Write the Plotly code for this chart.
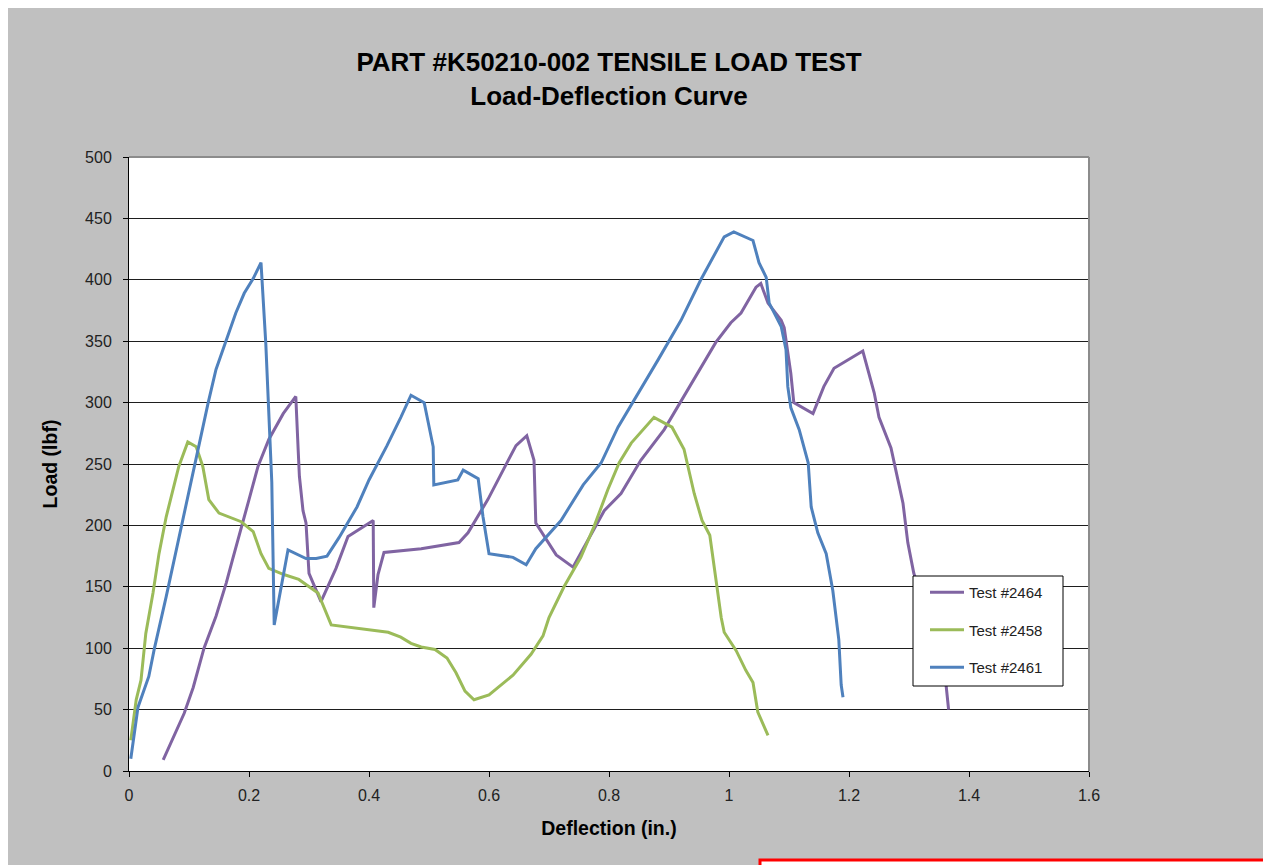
import plotly.graph_objects as go

# Test #2464 (purple)
x_2464 = [0.057, 0.075, 0.092, 0.107, 0.125, 0.145, 0.162, 0.173, 0.187, 0.200, 0.215, 0.233, 0.257, 0.278,
          0.282, 0.284, 0.290, 0.295, 0.300, 0.320, 0.345, 0.365, 0.407, 0.408, 0.415, 0.425, 0.487, 0.550,
          0.565, 0.598, 0.632, 0.645, 0.663, 0.675, 0.678, 0.692, 0.712, 0.740, 0.765, 0.792, 0.820, 0.853,
          0.892, 0.925, 0.953, 0.978, 1.003, 1.020, 1.045, 1.053, 1.065, 1.087, 1.092, 1.103, 1.108, 1.140,
          1.158, 1.175, 1.223, 1.242, 1.250, 1.270, 1.278, 1.290, 1.298, 1.308, 1.330, 1.350, 1.362, 1.366]
y_2464 = [9, 28, 47, 68, 100, 126, 153, 173, 199, 221, 248, 270, 291, 305,
          261, 240, 212, 202, 161, 138, 165, 191, 204, 133, 160, 178, 181, 186,
          194, 221, 253, 265, 273, 253, 202, 191, 176, 166, 188, 212, 226, 253,
          278, 305, 329, 349, 365, 373, 394, 397, 381, 367, 361, 324, 300, 291,
          313, 328, 342, 308, 288, 263, 245, 218, 186, 161, 128, 98, 69, 50]

# Test #2458 (green)
x_2458 = [0.003, 0.012, 0.020, 0.028, 0.040, 0.050, 0.062, 0.083, 0.098, 0.112, 0.123, 0.133, 0.150,
          0.187, 0.207, 0.220, 0.233, 0.258, 0.283, 0.315, 0.337, 0.432, 0.453, 0.470, 0.487, 0.510,
          0.530, 0.545, 0.560, 0.575, 0.600, 0.625, 0.640, 0.670, 0.690, 0.700, 0.725, 0.753, 0.775,
          0.798, 0.817, 0.837, 0.865, 0.875, 0.905, 0.925, 0.942, 0.955, 0.968, 0.975, 0.987, 0.992,
          1.012, 1.028, 1.040, 1.048, 1.065]
y_2458 = [25, 58, 74, 112, 145, 177, 207, 248, 268, 264, 248, 221, 210,
          203, 195, 177, 165, 160, 156, 145, 119, 113, 109, 104, 101, 99,
          92, 80, 65, 58, 62, 72, 78, 95, 110, 125, 150, 174, 199,
          229, 251, 267, 283, 288, 280, 262, 226, 204, 192, 166, 125, 113,
          98, 82, 72, 48, 29]

# Test #2461 (blue)
x_2461 = [0.003, 0.015, 0.033, 0.042, 0.062, 0.087, 0.110, 0.132, 0.145, 0.162, 0.178, 0.192, 0.207,
          0.220, 0.228, 0.238, 0.240, 0.242, 0.265, 0.295, 0.312, 0.330, 0.350, 0.380, 0.400, 0.430,
          0.453, 0.470, 0.492, 0.500, 0.507, 0.508, 0.548, 0.557, 0.582, 0.590, 0.600, 0.640, 0.662,
          0.678, 0.720, 0.757, 0.787, 0.815, 0.842, 0.882, 0.920, 0.953, 0.992, 1.008, 1.040, 1.050,
          1.062, 1.067, 1.087, 1.095, 1.098, 1.103, 1.117, 1.132, 1.137, 1.148, 1.162, 1.173, 1.183,
          1.187, 1.190]
y_2461 = [10, 52, 77, 99, 142, 199, 250, 300, 327, 351, 373, 389, 401,
          414, 348, 235, 160, 119, 180, 173, 173, 175, 190, 215, 237, 265,
          288, 306, 300, 280, 264, 233, 237, 245, 238, 207, 177, 174, 168,
          181, 204, 233, 251, 280, 302, 335, 367, 400, 435, 439, 432, 414,
          402, 381, 362, 343, 313, 296, 278, 251, 215, 194, 177, 147, 107,
          70, 60]

x_ticks = [0, 0.2, 0.4, 0.6, 0.8, 1.0, 1.2, 1.4, 1.6]
x_tick_labels = ["0", "0.2", "0.4", "0.6", "0.8", "1", "1.2", "1.4", "1.6"]
y_ticks = [0, 50, 100, 150, 200, 250, 300, 350, 400, 450, 500]

FONT = "Liberation Sans, Arial, sans-serif"

fig = go.Figure()
series = [
    ("Test #2464", x_2464, y_2464, "#8064A2"),
    ("Test #2458", x_2458, y_2458, "#9BBB59"),
    ("Test #2461", x_2461, y_2461, "#4F81BD"),
]
for i, (name, xs, ys, col) in enumerate(series):
    fig.add_trace(go.Scatter(x=xs, y=ys, mode="lines", name=name, legendgroup=f"g{i}",
                             line=dict(color=col, width=3)))

# figure coordinates (page has an 8px body margin)
L, R, T, B = 121, 1081, 149, 763
W, H = 1271, 865
pw, ph = R - L, B - T

def px(x):
    return (x - L) / pw

def py(y):
    return (B - y) / ph

shapes = [
    # red outlined box at bottom right
    dict(type="rect", xref="paper", yref="paper", x0=px(752), x1=px(W + 10), y0=py(H + 10), y1=py(852),
         fillcolor="white", line=dict(color="#FF0000", width=3), layer="below"),
    # gray border of plot area (top and right)
    dict(type="line", xref="paper", yref="paper", x0=0, x1=1, y0=1, y1=1,
         line=dict(color="#8C8C8C", width=2)),
    dict(type="line", xref="paper", yref="paper", x0=1, x1=1, y0=0, y1=1,
         line=dict(color="#8C8C8C", width=2)),
    # legend frame
    dict(type="rect", xref="paper", yref="paper", x0=px(905), x1=px(1055), y0=py(678), y1=py(568),
         fillcolor="white", line=dict(color="#000000", width=1), layer="above"),
]

fig.update_layout(
    width=W, height=H,
    margin=dict(l=L, r=W - R, t=T, b=H - B),
    paper_bgcolor="#C0C0C0",
    plot_bgcolor="white",
    font=dict(family=FONT, color="#222222", size=16),
    title=dict(text="<b>PART #K50210-002 TENSILE LOAD TEST<br>Load-Deflection Curve</b>",
               x=(L + R) / 2 / W, xanchor="center", y=1 - 63 / H, yanchor="middle",
               font=dict(family=FONT, size=26, color="#000000")),
    shapes=shapes,
    showlegend=True,
    legend=dict(x=px(917), y=py(568), xanchor="left", yanchor="top",
                bgcolor="rgba(0,0,0,0)", borderwidth=0,
                font=dict(family=FONT, size=15, color="#222222"),
                traceorder="grouped", tracegroupgap=15, itemwidth=34),
)

fig.update_xaxes(range=[0, 1.6], tickvals=x_ticks, ticktext=x_tick_labels,
                 showgrid=False, zeroline=False,
                 showline=True, linecolor="#000000", linewidth=1,
                 ticks="outside", ticklen=5, tickcolor="#000000", ticklabelstandoff=5,
                 tickfont=dict(family=FONT, size=16, color="#222222"),
                 title=dict(text="<b>Deflection (in.)</b>", standoff=18,
                            font=dict(family=FONT, size=19.5, color="#000000")))
fig.update_yaxes(range=[0, 500], tickvals=y_ticks,
                 showgrid=True, gridcolor="#1E1E1E", gridwidth=1, zeroline=False,
                 showline=True, linecolor="#000000", linewidth=1,
                 ticks="outside", ticklen=5, tickcolor="#000000", ticklabelstandoff=8,
                 tickfont=dict(family=FONT, size=16, color="#222222"),
                 title=dict(text="<b>Load (lbf)</b>", standoff=22,
                            font=dict(family=FONT, size=19.5, color="#000000")))

fig.write_html("out.html")
